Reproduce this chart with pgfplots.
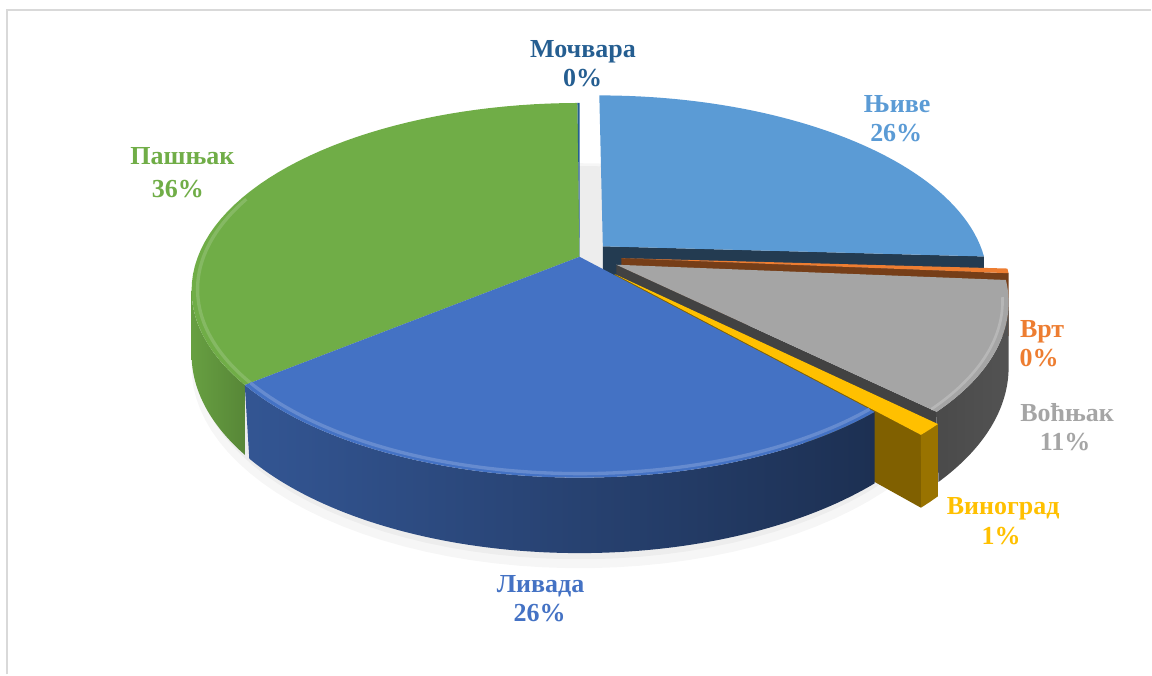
\documentclass[border=0pt]{standalone}
\usepackage{pgfplots}
\pgfplotsset{compat=1.18}
\usepackage{pgfplotstable}
\usepackage{fontspec}
\setmainfont{Liberation Serif}

\definecolor{cNjive}{HTML}{5B9BD5}
\definecolor{cVrt}{HTML}{ED7D31}
\definecolor{cVoc}{HTML}{A5A5A5}
\definecolor{cVin}{HTML}{FFC000}
\definecolor{cLiv}{HTML}{4472C4}
\definecolor{cPas}{HTML}{70AD47}
\definecolor{cMoc}{HTML}{255E91}
\definecolor{frame}{HTML}{D9D9D9}

% share of each land use (percent) and explosion of the slice
\pgfplotstableread{
slice    value explode
Njive    25.9  0.085
Vrt      0.4   0.11
Vocnjak  11.0  0.105
Vinograd 1.0   0.13
Livada   25.9  0.0
Pasnjak  35.7  0.0
Mocvara  0.1   0.0
}\piedata

\pgfplotstablegetelem{0}{value}\of\piedata\pgfmathsetmacro\vA{\pgfplotsretval}
\pgfplotstablegetelem{1}{value}\of\piedata\pgfmathsetmacro\vB{\pgfplotsretval}
\pgfplotstablegetelem{2}{value}\of\piedata\pgfmathsetmacro\vC{\pgfplotsretval}
\pgfplotstablegetelem{3}{value}\of\piedata\pgfmathsetmacro\vD{\pgfplotsretval}
\pgfplotstablegetelem{4}{value}\of\piedata\pgfmathsetmacro\vE{\pgfplotsretval}
\pgfplotstablegetelem{5}{value}\of\piedata\pgfmathsetmacro\vF{\pgfplotsretval}
\pgfplotstablegetelem{0}{explode}\of\piedata\pgfmathsetmacro\eA{\pgfplotsretval}
\pgfplotstablegetelem{1}{explode}\of\piedata\pgfmathsetmacro\eB{\pgfplotsretval}
\pgfplotstablegetelem{2}{explode}\of\piedata\pgfmathsetmacro\eC{\pgfplotsretval}
\pgfplotstablegetelem{3}{explode}\of\piedata\pgfmathsetmacro\eD{\pgfplotsretval}
\pgfplotstablegetelem{4}{explode}\of\piedata\pgfmathsetmacro\eE{\pgfplotsretval}
\pgfplotstablegetelem{5}{explode}\of\piedata\pgfmathsetmacro\eF{\pgfplotsretval}
\pgfplotstablegetelem{6}{explode}\of\piedata\pgfmathsetmacro\eG{\pgfplotsretval}

\pgfmathsetmacro\aA{0}
\pgfmathsetmacro\aB{\aA+3.6*\vA}
\pgfmathsetmacro\aC{\aB+3.6*\vB}
\pgfmathsetmacro\aD{\aC+3.6*\vC}
\pgfmathsetmacro\aE{\aD+3.6*\vD}
\pgfmathsetmacro\aF{\aE+3.6*\vE}
\pgfmathsetmacro\aG{\aF+3.6*\vF}
\pgfmathsetmacro\aH{360}

% projection constants (pixel units)
\def\cx{580}\def\CY{418}\def\R{382}\def\M{181.5}\def\K{0.179}\def\Hh{62}
\def\ou{0}\def\ov{0}
\pgfmathdeclarefunction{PX}{2}{\pgfmathparse{\cx+\R*(#1)/(1+\K*(#2))}}
\pgfmathdeclarefunction{PY}{2}{\pgfmathparse{\CY+(\M*(#1)-\Hh*(#2))/(1+\K*(#1))}}

\newcommand\setslice[3]{\pgfmathsetmacro\ta{#1}\pgfmathsetmacro\tb{#2}%
  \pgfmathsetmacro\tm{(#1+#2)/2}%
  \pgfmathsetmacro\ou{#3*sin(\tm)}\pgfmathsetmacro\ov{#3*cos(\tm)}}

\newcommand\topface[1]{%
\addplot[draw=none, fill=#1, domain=-0.02:1, samples=52, variable=\s]
 ({PX(\ou+(\s>-0.01)*sin(\ta+max(\s,0)*(\tb-\ta)), \ov+(\s>-0.01)*cos(\ta+max(\s,0)*(\tb-\ta)))},
  {PY(\ov+(\s>-0.01)*cos(\ta+max(\s,0)*(\tb-\ta)), 0)}) -- cycle;}

\newcommand\sidewall[4]{%
\addplot[draw=none, left color=#3, right color=#4, domain=0:2, samples=161, variable=\s]
 ({PX(\ou+sin(#1+(#2-#1)*(1-abs(1-\s))), \ov+cos(#1+(#2-#1)*(1-abs(1-\s))))},
  {PY(\ov+cos(#1+(#2-#1)*(1-abs(1-\s))), \s>1.005)}) -- cycle;}

\newcommand\radface[2]{%
\addplot[draw=none, fill=#2, samples at={0,1,2,3}, variable=\s]
 ({PX(\ou+((\s>0.5)*(\s<2.5))*sin(#1), \ov+((\s>0.5)*(\s<2.5))*cos(#1))},
  {PY(\ov+((\s>0.5)*(\s<2.5))*cos(#1), \s>1.5)}) -- cycle;}

\newcommand\rim[4]{% from to color width
\addplot[draw=#3, line width=#4, domain=#1:#2, samples=80, variable=\t]
 ({PX(\ou+0.985*sin(\t), \ov+0.985*cos(\t))}, {PY(\ov+0.985*cos(\t), 0)});}

\begin{document}
\begin{tikzpicture}
\begin{axis}[hide axis, scale only axis, width=864pt, height=506.25pt,
  xmin=0, xmax=1152, ymin=0, ymax=675, clip=false]
\path (axis cs:0,0) rectangle (axis cs:1152,675);
\draw[frame, line width=1.5pt] (axis cs:7.5,0) -- (axis cs:7.5,664.5) -- (axis cs:1152,664.5);

% soft shadow below the pie
\def\ou{0}\def\ov{0}
\addplot[draw=none, fill=black, fill opacity=0.035, domain=0:360, samples=120, variable=\t]
 ({PX(1.0*sin(\t), 1.0*cos(\t))}, {PY(1.0*cos(\t), 1.2)}) -- cycle;
\addplot[draw=none, fill=black, fill opacity=0.035, domain=0:360, samples=120, variable=\t]
 ({PX(0.99*sin(\t), 0.99*cos(\t))}, {PY(0.99*cos(\t), 1.12)}) -- cycle;

% Pasnjak
\setslice{\aF}{\aG}{\eF}
\sidewall{\aF}{259.7}{cPas!92!black}{cPas!78!black}
\topface{cPas}
\rim{\aF}{290}{cPas!85!white}{2.5pt}
% Mocvara
\setslice{\aG}{\aH}{\eG}
\topface{cMoc}
% Njive
\setslice{\aA}{\aB}{\eA}
\radface{\aB}{cNjive!38!black}
\topface{cNjive}
% Vrt
\setslice{\aB}{\aC}{\eB}
\radface{\aC}{cVrt!50!black}
\topface{cVrt}
% Vocnjak
\setslice{\aC}{\aD}{\eC}
\radface{\aD}{cVoc!40!black}
\sidewall{100.3}{\aD}{cVoc!45!black}{cVoc!50!black}
\topface{cVoc}
\rim{100}{\aD}{cVoc!80!white}{2pt}
% Vinograd
\setslice{\aD}{\aE}{\eD}
\radface{\aE}{cVin!50!black}
\sidewall{\aD}{\aE}{cVin!60!black}{cVin!60!black}
\topface{cVin}
% Livada
\setslice{\aE}{\aF}{\eE}
\sidewall{\aE}{\aF}{cLiv!75!black}{cLiv!42!black}
\topface{cLiv}
\rim{\aE}{\aF}{cLiv!82!white}{2.5pt}

\begin{scope}[every node/.style={anchor=base, font=\fontsize{19.5}{22}\selectfont\bfseries, inner sep=0pt}]
\node[text=cMoc] at (axis cs:583.5,617) {Мочвара};
\node[text=cMoc] at (axis cs:583,588) {0\%};
\node[text=cNjive] at (axis cs:898,562) {Њиве};
\node[text=cNjive] at (axis cs:897,533) {26\%};
\node[text=cPas] at (axis cs:182.5,510) {Пашњак};
\node[text=cPas] at (axis cs:178,477) {36\%};
\node[text=cVrt] at (axis cs:1043,337) {Врт};
\node[text=cVrt] at (axis cs:1040,308) {0\%};
\node[text=cVoc] at (axis cs:1068,253) {Воћњак};
\node[text=cVoc] at (axis cs:1066,224) {11\%};
\node[text=cVin] at (axis cs:1004,160) {Виноград};
\node[text=cVin] at (axis cs:1002,130) {1\%};
\node[text=cLiv] at (axis cs:541,82) {Ливада};
\node[text=cLiv] at (axis cs:540,53) {26\%};
\end{scope}
\end{axis}
\end{tikzpicture}
\end{document}
